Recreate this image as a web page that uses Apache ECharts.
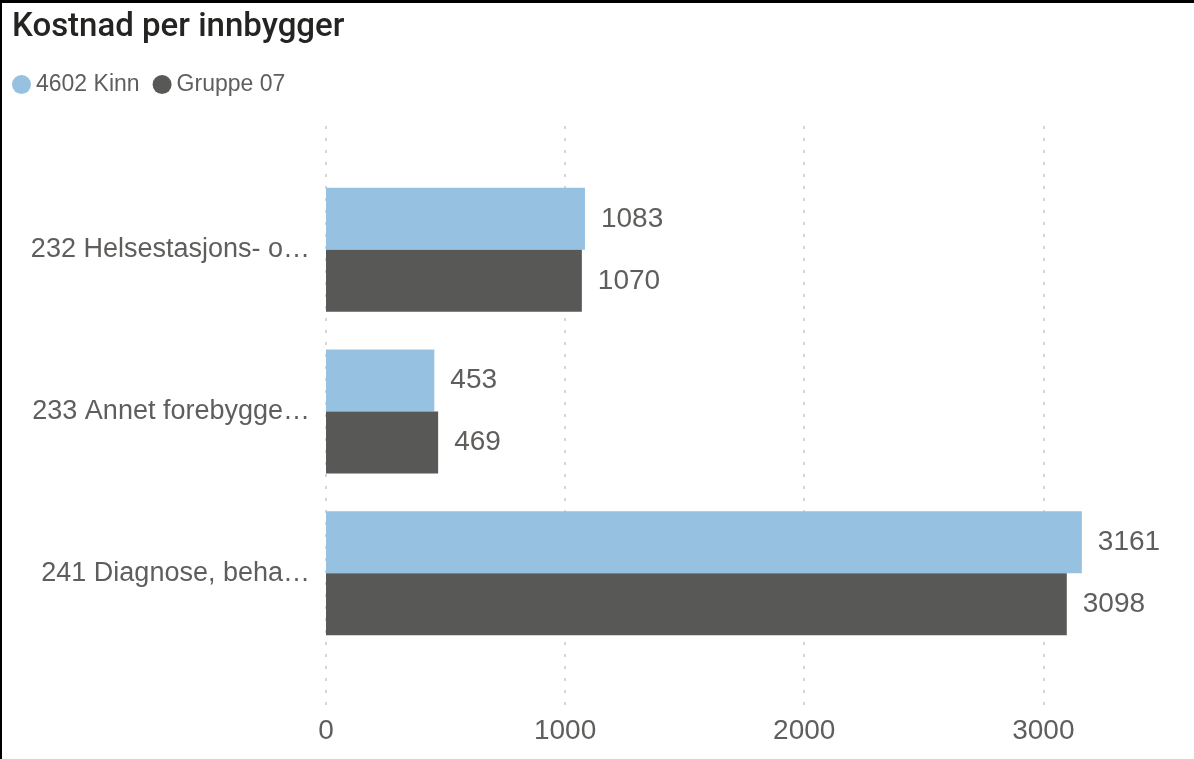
<!DOCTYPE html>
<html>
<head>
<meta charset="utf-8">
<script src="https://cdn.jsdelivr.net/npm/echarts@6/dist/echarts.min.js"></script>
<style>
  html, body { margin: 0; padding: 0; background: #fff; }
  #chart { width: 1194px; height: 759px; }
</style>
</head>
<body>
<div id="chart"></div>
<script>
// tjenester (kategorier)
var categories = [
  "232 Helsestasjons- og skolehelsetjeneste",
  "233 Annet forebyggende helsearbeid",
  "241 Diagnose, behandling, re-/habilitering"
];
var seriesNames = ["4602 Kinn", "Gruppe 07"];
var kinnValues = [1083, 453, 3161];
var gruppeValues = [1070, 469, 3098];
var axisMax = 3400;
var tickInterval = 1000;

var textGray = "#605E5C";
var fontMain = "Liberation Sans, Arial, sans-serif";

var myChart = echarts.init(document.getElementById("chart"));

var option = {
  backgroundColor: "#fff",
  animation: false,
  title: {
    text: "Kostnad per innbygger",
    left: 7,
    top: 6,
    textStyle: {
      color: "#252423",
      fontSize: 33,
      fontWeight: 500,
      fontFamily: "Roboto, sans-serif"
    }
  },
  legend: {
    left: 7,
    top: 68,
    icon: "circle",
    itemWidth: 19,
    itemHeight: 19,
    itemGap: 13,
    data: seriesNames,
    textStyle: {
      color: textGray,
      fontSize: 23,
      fontFamily: fontMain
    }
  },
  graphic: [
    // ramme oppe og til venstre
    { type: "rect", shape: { x: 0, y: 0, width: 1194, height: 3 }, style: { fill: "#000" } },
    { type: "rect", shape: { x: 0, y: 0, width: 2, height: 759 }, style: { fill: "#000" } }
  ],
  grid: [
    { left: 326, top: 169, width: 813, height: 485, containLabel: false },
    // egen grid bare for de stiplede linjene og aksetekst
    { left: 326, top: 126, width: 813, height: 581, containLabel: false }
  ],
  xAxis: [
    {
      gridIndex: 0,
      type: "value",
      min: 0,
      max: axisMax,
      interval: tickInterval,
      show: false
    },
    {
      gridIndex: 1,
      type: "value",
      min: 0,
      max: axisMax,
      interval: tickInterval,
      axisLine: { show: false },
      axisTick: { show: false },
      axisLabel: {
        color: textGray,
        fontSize: 28,
        fontFamily: fontMain,
        margin: 10,
        showMaxLabel: false,
        formatter: function (v) { return String(v); }
      },
      splitLine: {
        show: true,
        showMaxLine: false,
        lineStyle: { color: "#c8c8c8", width: 1.5, type: [3, 9] }
      }
    }
  ],
  yAxis: [
    {
      gridIndex: 0,
      type: "category",
      inverse: true,
      data: categories,
      axisLine: { show: false },
      axisTick: { show: false },
      splitLine: { show: false },
      axisLabel: {
        color: textGray,
        fontSize: 27,
        fontFamily: fontMain,
        margin: 16,
        width: 284,
        overflow: "truncate",
        ellipsis: "…"
      }
    },
    {
      gridIndex: 1,
      type: "category",
      data: [""],
      show: false
    }
  ],
  series: [
    {
      name: seriesNames[0],
      type: "bar",
      xAxisIndex: 0,
      yAxisIndex: 0,
      data: kinnValues,
      barWidth: 62,
      barGap: "0%",
      itemStyle: { color: "#97C1E1" },
      label: {
        show: true,
        position: "right",
        distance: 16,
        color: textGray,
        fontSize: 28,
        fontFamily: fontMain
      }
    },
    {
      name: seriesNames[1],
      type: "bar",
      xAxisIndex: 0,
      yAxisIndex: 0,
      data: gruppeValues,
      barWidth: 62,
      barGap: "0%",
      itemStyle: { color: "#585857" },
      label: {
        show: true,
        position: "right",
        distance: 16,
        color: textGray,
        fontSize: 28,
        fontFamily: fontMain
      }
    }
  ]
};

myChart.setOption(option);
</script>
</body>
</html>
